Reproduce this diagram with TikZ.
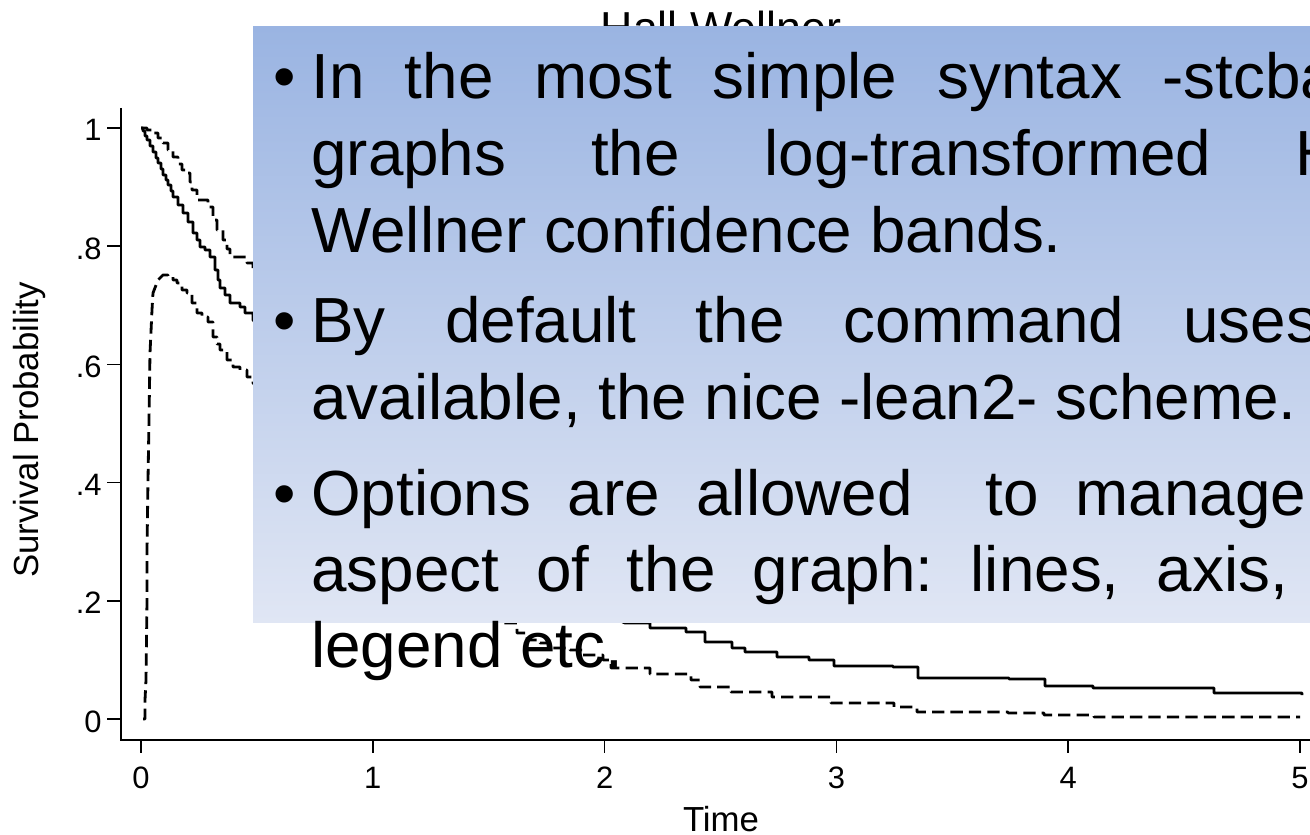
\documentclass[tikz,border=0pt]{standalone}
\usepackage{fontspec}
\setmainfont{Liberation Sans}
\usepackage{tikz}
\usepackage{xcolor}

\definecolor{boxtop}{RGB}{154,180,226}
\definecolor{boxbot}{RGB}{224,230,244}

\begin{document}
\frenchspacing
\begin{tikzpicture}[x=0.02cm, y=-0.02cm,
        km/.style={line width=1.6pt, line join=round},
        band/.style={km, dash pattern=on 7pt off 3.5pt},
        ticklab/.style={font=\fontsize{17.6}{20}\selectfont, inner sep=0pt},
        axtitle/.style={font=\fontsize{19.8}{22}\selectfont, inner sep=0pt, anchor=base},
        slide/.style={font=\fontsize{36.3}{40}\selectfont, inner sep=0pt, anchor=base west},
        dot/.style={font=\fontsize{36.3}{40}\selectfont, inner sep=0pt, anchor=base}]
    \path[use as bounding box] (0,0) rectangle (1310,834);
    \clip (0,0) rectangle (1310,834);

    % Title (partly under the box)
    \node[axtitle, font=\fontsize{25.5}{28}\selectfont] (title) at (721,44) {Hall Wellner};

    % Axes
    \draw[line width=0.85pt] (121,108) -- (121,740) -- (1310,740);

    % Ticks
    \foreach \v/\lab [count=\i] in {0/0, 0.2/.2, 0.4/.4, 0.6/.6, 0.8/.8, 1/1} {
        \pgfmathsetmacro{\yy}{719-591*\v}
        \draw[line width=0.85pt] (107,\yy) -- (121,\yy);
        \node[ticklab, anchor=base east] (ylab\i) at (102,\yy+13) {\lab};
    }
    \foreach \t in {0,...,5} {
        \pgfmathsetmacro{\xx}{141+231.8*\t}
        \draw[line width=0.85pt] (\xx,740) -- (\xx,753);
        \node[ticklab, anchor=base] (xlab\t) at (\xx,788) {\t};
    }

    % Axis titles
    \node[axtitle] (xtitle) at (721,831) {Time};
    \node[axtitle, rotate=90] (ytitle) at (38,430) {Survival Probability};

    % Kaplan-Meier estimate
    \draw[km] (141,128) -| (143,131) -| (145,136) -| (147,140) -| (150,146) -| (153,152)
        -| (156,158) -| (158,163) -| (161,169) -| (163,175) -| (166,180) -| (168,185)
        -| (171,191) -| (173,197) -| (178,205) -| (183,213) -| (188,222) -| (193,233)
        -| (197,240) -| (200,247) -| (205,250) -| (210,257) -| (215,270) -| (218,280)
        -| (220,288) -| (225,295) -| (230,303) -| (240,307) -| (245,313) -| (253,320)
        -- (350,420) -- (450,520) -- (550,590) -- (625,623)
        -| (650,628) -| (686,632) -| (705,642) -| (732,648) -| (745,652) -| (777,657)
        -| (809,660) -| (834,666) -| (893,667) -| (918,678) -| (1009,679) -| (1045,686)
        -| (1093,688) -| (1214,693) -| (1302,695);

    % Upper band
    \draw[band] (141,128) -| (147,130) -| (153,133) -| (158,138) -| (163,143) -| (168,150)
        -| (173,157) -| (178,164) -| (182,170) -| (187,173) -| (190,182) -| (192,190)
        -| (197,200) -| (208,207) -| (213,220) -| (217,230) -| (223,240) -| (227,249)
        -| (230,257) -| (240,257) -| (247,263) -| (253,270)
        -- (400,400) -- (550,500) -- (700,560);

    % Lower band
    \draw[band] (143,719) -- (145,719) -- (145,700) -- (146,680) -- (147,600) -- (147,550)
        -- (148,480) -- (149,420) -- (150,353) -- (152,310) -- (153,293) -- (158,280)
        -- (163,275) -| (168,277) -| (173,280) -| (177,283) -| (182,290) -| (187,293)
        -| (192,303) -| (197,313) -| (202,317) -| (208,322) -| (213,337) -| (217,344)
        -| (220,350) -| (227,360) -| (233,367) -| (240,370) -| (247,377) -| (253,383)
        -- (350,480) -- (450,570) -- (500,623) -| (517,633) -| (527,640) -| (540,643)
        -| (550,648) -| (570,650) -| (583,655) -| (603,660)
        -| (611,668) -| (650,674) -| (691,680) -| (700,687) -| (731,692) -| (772,697)
        -| (831,703) -| (894,707) -| (917,712) -| (1008,713) -| (1044,715) -| (1094,717)
        -- (1300,717);

    % Slide box
    \shade[top color=boxtop, bottom color=boxbot] (253,27) rectangle (1310,622);

    % Bullets
    \node[dot] (b1) at (285,99) {•};
    \node[slide] (l1) at (311,99) {\makebox[20.5cm][s]{In the most simple syntax -stcba}};
    \node[slide] (l2) at (311,176) {\makebox[20.62cm][s]{graphs the log-transformed H}};
    \node[slide] (l3) at (311,253) {Wellner confidence bands.};

    \node[dot] (b2) at (285,342) {•};
    \node[slide] (l4) at (311,342) {\makebox[20.14cm][s]{By default the command uses}};
    \node[slide] (l5) at (311,419) {available, the nice -lean2- scheme.};

    \node[dot] (b3) at (285,515) {•};
    \node[slide] (l6) at (311,515) {\makebox[19.9cm][s]{Options are allowed~ to manage}};
    \node[slide] (l7) at (311,591) {\makebox[19.54cm][s]{aspect of the graph: lines, axis,}};
    \node[slide] (l8) at (311,667) {legend etc.};
\end{tikzpicture}
\end{document}
